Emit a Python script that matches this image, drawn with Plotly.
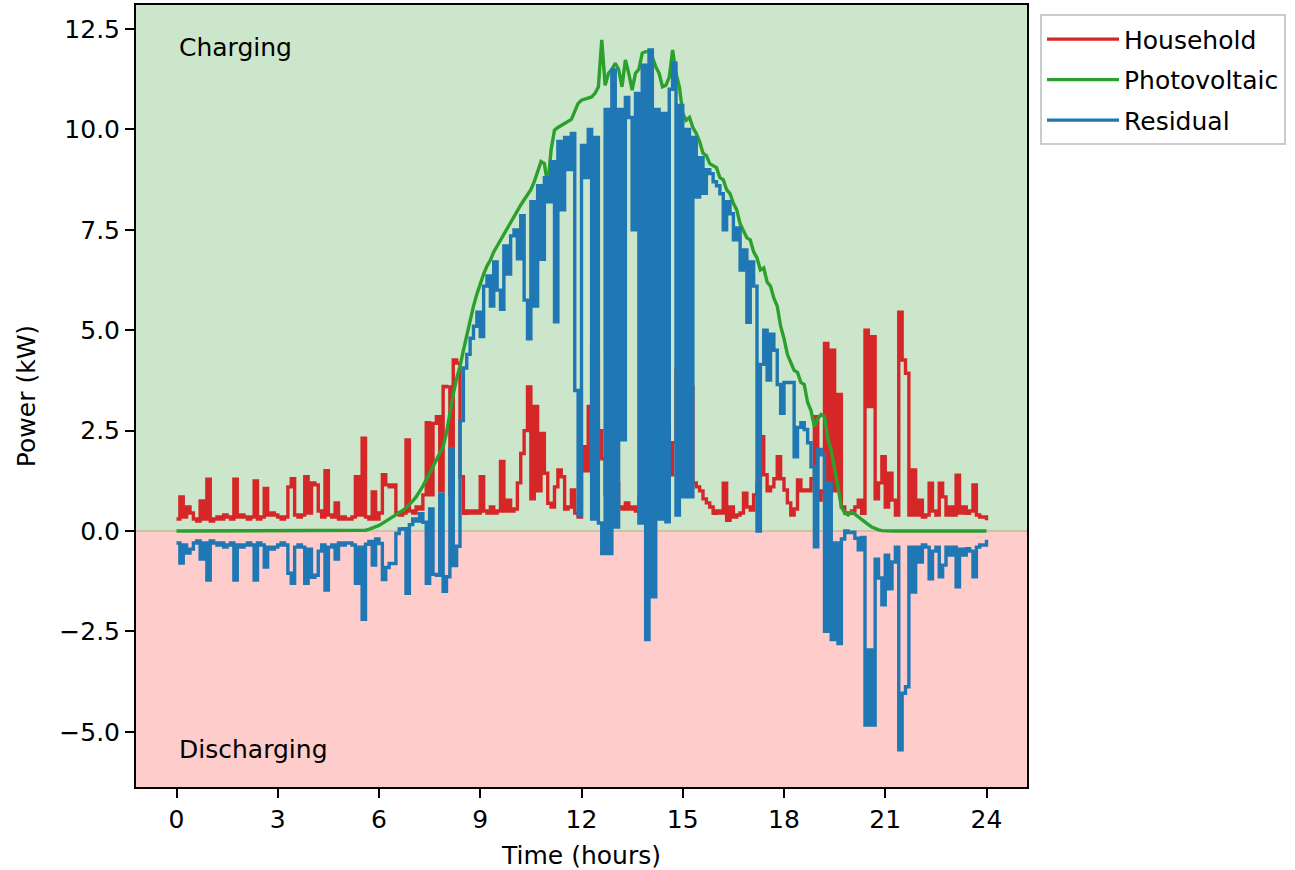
import plotly.graph_objects as go

# sampling grid: one reading every 0.1 h (6 minutes), 0 .. 24 h
n_steps = 241
time_h = [round(k * 0.1, 1) for k in range(n_steps)]

household = [
    0.30, 0.85, 0.35, 0.60, 0.45, 0.30, 0.25, 0.75, 0.30, 1.29,
    0.25, 0.30, 0.35, 0.30, 0.40, 0.35, 0.30, 1.29, 0.35, 0.40,
    0.35, 0.30, 0.35, 1.25, 0.30, 0.35, 1.06, 0.40, 0.45, 0.40,
    0.35, 0.30, 0.35, 1.10, 1.30, 0.40, 0.35, 0.40, 1.35, 0.45,
    1.20, 1.15, 0.50, 0.35, 1.50, 0.40, 0.35, 0.70, 0.30, 0.35,
    0.30, 0.30, 0.35, 1.35, 0.40, 2.31, 0.35, 0.30, 0.97, 0.30,
    0.45, 1.40, 1.15, 1.10, 1.15, 0.45, 0.40, 0.45, 2.27, 0.50,
    0.45, 0.60, 0.55, 0.90, 2.70, 0.90, 2.68, 2.85, 1.00, 3.60,
    3.59, 0.90, 4.26, 4.18, 1.35, 0.44, 0.50, 0.45, 0.50, 0.45,
    1.35, 0.50, 0.45, 0.60, 0.45, 0.50, 1.73, 0.50, 0.77, 0.50,
    0.55, 1.20, 1.93, 2.50, 3.59, 0.80, 3.10, 1.00, 2.43, 1.44,
    0.69, 0.60, 1.10, 1.52, 1.35, 0.55, 0.60, 1.02, 0.45, 0.35,
    2.10, 1.50, 3.10, 4.70, 4.26, 2.50, 1.80, 0.90, 1.50, 0.70,
    1.19, 0.60, 0.55, 0.70, 0.55, 0.60, 0.50, 0.80, 0.60, 0.55,
    1.40, 0.90, 2.18, 1.70, 2.20, 2.68, 1.40, 2.20, 4.00, 4.59,
    3.00, 3.20, 3.59, 1.20, 1.10, 1.00, 0.80, 0.70, 0.60, 0.44,
    0.50, 0.45, 1.19, 0.27, 0.60, 0.35, 0.40, 0.45, 0.94, 0.60,
    0.52, 0.90, 1.20, 2.35, 1.40, 1.00, 1.10, 1.30, 1.85, 1.30,
    1.02, 0.70, 0.40, 0.55, 1.27, 1.00, 1.02, 1.00, 1.30, 2.85,
    0.77, 1.00, 4.67, 0.90, 4.50, 1.00, 3.40, 0.60, 0.45, 0.44,
    0.50, 0.60, 0.77, 0.44, 5.00, 3.10, 4.84, 0.80, 1.20, 1.85,
    0.60, 1.44, 0.77, 0.40, 5.45, 4.26, 3.93, 0.40, 1.52, 0.40,
    0.77, 0.35, 0.40, 1.19, 0.50, 0.40, 1.19, 0.85, 0.40, 0.60,
    0.40, 1.39, 0.45, 0.60, 0.44, 0.50, 1.15, 0.40, 0.35, 0.35,
    0.27,
]

photovoltaic = [
    0, 0, 0, 0, 0, 0, 0, 0, 0, 0,
    0, 0, 0, 0, 0, 0, 0, 0, 0, 0,
    0, 0, 0, 0, 0, 0, 0, 0, 0, 0,
    0, 0, 0, 0, 0, 0, 0, 0, 0, 0,
    0, 0, 0, 0, 0, 0, 0, 0, 0, 0,
    0, 0, 0, 0, 0, 0, 0.02, 0.04, 0.07, 0.10,
    0.14, 0.19, 0.24, 0.29, 0.34, 0.39, 0.45, 0.51, 0.58, 0.66,
    0.75, 0.85, 0.98, 1.12, 1.28, 1.45, 1.60, 1.75, 1.92, 2.10,
    2.45, 2.95, 3.40, 3.80, 4.10, 4.50, 4.90, 5.25, 5.60, 5.90,
    6.17, 6.40, 6.60, 6.75, 6.95, 7.10, 7.25, 7.40, 7.55, 7.66,
    7.82, 7.98, 8.12, 8.25, 8.38, 8.50, 8.70, 8.95, 9.20, 9.15,
    8.60, 9.50, 9.98, 10.05, 10.10, 10.15, 10.20, 10.25, 10.45, 10.65,
    10.73, 10.75, 10.78, 10.81, 10.90, 11.06, 12.23, 11.10, 11.40, 11.50,
    11.65, 11.50, 11.06, 11.73, 11.40, 10.98, 11.40, 11.50, 11.90, 11.94,
    11.94, 11.80, 11.56, 11.40, 11.06, 11.10, 11.30, 11.98, 11.40, 11.06,
    10.40, 10.23, 10.30, 10.05, 9.90, 9.70, 9.41, 9.35, 9.15, 9.10,
    9.05, 8.80, 8.75, 8.50, 8.40, 8.16, 8.00, 7.65, 7.45, 7.30,
    7.25, 6.95, 6.80, 6.50, 6.55, 6.20, 6.10, 5.80, 5.60, 5.10,
    4.80, 4.40, 4.20, 4.00, 3.95, 3.70, 3.65, 3.20, 3.00, 2.60,
    2.80, 2.90, 2.85, 2.30, 2.00, 1.60, 1.10, 0.60, 0.45, 0.40,
    0.47, 0.42, 0.35, 0.28, 0.22, 0.16, 0.10, 0.06, 0.03, 0.01,
    0, 0, 0, 0, 0, 0, 0, 0, 0, 0,
    0, 0, 0, 0, 0, 0, 0, 0, 0, 0,
    0, 0, 0, 0, 0, 0, 0, 0, 0, 0,
    0,
]

residual = [
    -0.30, -0.80, -0.35, -0.55, -0.45, -0.30, -0.25, -0.70, -0.30, -1.22,
    -0.25, -0.30, -0.35, -0.30, -0.40, -0.35, -0.30, -1.22, -0.35, -0.40,
    -0.35, -0.30, -0.35, -1.22, -0.30, -0.35, -0.90, -0.40, -0.45, -0.40,
    -0.35, -0.30, -0.35, -1.05, -1.30, -0.40, -0.35, -0.40, -1.30, -0.45,
    -1.15, -1.10, -0.50, -0.35, -1.47, -0.40, -0.35, -0.70, -0.30, -0.35,
    -0.30, -0.30, -0.35, -1.30, -0.40, -2.20, -0.33, -0.26, -0.85, -0.20,
    -0.31, -1.21, -0.91, -0.81, -0.81, -0.06, 0.05, 0.06, -1.55, 0.16,
    0.30, 0.25, 0.43, 0.22, -1.30, 0.55, -1.08, -1.10, 0.92, -1.50,
    -1.14, 2.05, -0.86, -0.38, 2.75, 4.06, 4.40, 4.80, 5.10, 5.45,
    4.84, 6.10, 6.35, 5.60, 6.70, 6.00, 5.52, 7.10, 6.40, 7.35,
    7.50, 6.78, 7.85, 5.75, 4.79, 8.20, 5.60, 8.60, 6.77, 8.80,
    8.20, 9.20, 5.21, 9.70, 8.00, 9.80, 9.00, 9.90, 3.50, 0.40,
    9.60, 8.80, 10.00, 0.30, 9.80, 0.20, -0.56, 10.50, -0.56, 11.48,
    0.10, 10.50, 2.27, 10.80, 10.30, 7.50, 10.90, 0.20, 11.60, -2.70,
    11.98, -1.64, 10.50, 0.30, 10.40, 0.23, 11.00, 11.65, 0.40, 10.60,
    0.85, 10.00, 0.85, 9.80, 8.32, 9.30, 8.41, 9.00, 8.90, 8.70,
    8.60, 8.40, 7.50, 8.20, 7.90, 7.25, 7.55, 6.50, 7.00, 5.20,
    6.70, 6.10, 0.00, 4.15, 5.00, 3.76, 4.90, 4.50, 3.65, 2.93,
    3.70, 3.70, 3.70, 1.85, 2.58, 2.70, 2.53, 2.20, 1.60, -0.39,
    2.03, 1.90, -2.50, 1.20, -2.70, -0.30, -2.80, -0.20, 0.00, -0.04,
    -0.03, -0.18, -0.47, -0.16, -4.83, -2.96, -4.83, -0.70, -1.17, -1.84,
    -0.60, -1.44, -0.77, -0.40, -5.45, -4.04, -3.88, -0.40, -1.52, -0.40,
    -0.77, -0.35, -0.40, -1.19, -0.50, -0.40, -1.14, -0.85, -0.40, -0.60,
    -0.40, -1.39, -0.45, -0.60, -0.44, -0.50, -1.14, -0.40, -0.35, -0.35,
    -0.22,
]

x_ticks = [0, 3, 6, 9, 12, 15, 18, 21, 24]
y_ticks = [-5.0, -2.5, 0.0, 2.5, 5.0, 7.5, 10.0, 12.5]
y_tick_text = ["\u22125.0", "\u22122.5", "0.0", "2.5", "5.0", "7.5", "10.0", "12.5"]

FONT = "DejaVu Sans"
FS = 25
LW = 3.4

fig = go.Figure()
fig.add_trace(go.Scatter(x=time_h, y=household, mode="lines", name="Household",
                         legendgroup="g1",
                         line=dict(color="#d62728", width=LW, shape="hv")))
fig.add_trace(go.Scatter(x=time_h, y=photovoltaic, mode="lines", name="Photovoltaic",
                         legendgroup="g2",
                         line=dict(color="#2ca02c", width=LW)))
fig.add_trace(go.Scatter(x=time_h, y=residual, mode="lines", name="Residual",
                         legendgroup="g3",
                         line=dict(color="#1f77b4", width=LW, shape="hv")))

y_lo, y_hi = -6.375, 13.1

fig.add_shape(type="rect", xref="paper", x0=0, x1=1, yref="y", y0=0, y1=y_hi,
              fillcolor="rgb(204,230,204)", line=dict(width=0), layer="below")
fig.add_shape(type="rect", xref="paper", x0=0, x1=1, yref="y", y0=y_lo, y1=0,
              fillcolor="rgb(255,204,204)", line=dict(width=0), layer="below")
fig.add_shape(type="line", xref="paper", x0=0, x1=1, yref="y", y0=0, y1=0,
              line=dict(color="rgb(205,185,150)", width=1.5), layer="below")

fig.add_annotation(x=0, y=12.05, xref="x", yref="y", text="Charging", showarrow=False,
                   xanchor="left", yanchor="middle", font=dict(family=FONT, size=FS, color="black"))
fig.add_annotation(x=0, y=-5.45, xref="x", yref="y", text="Discharging", showarrow=False,
                   xanchor="left", yanchor="middle", font=dict(family=FONT, size=FS, color="black"))

axis_common = dict(showline=True, linecolor="black", linewidth=2, mirror=True,
                   ticks="outside", ticklen=9, tickwidth=2, tickcolor="black",
                   showgrid=False, zeroline=False,
                   tickfont=dict(family=FONT, size=FS, color="black"))

fig.update_layout(
    width=1295, height=870,
    margin=dict(l=136, r=268, t=5, b=83, autoexpand=False),
    paper_bgcolor="white", plot_bgcolor="white",
    font=dict(family=FONT, size=FS, color="black"),
    xaxis=dict(range=[-1.2, 25.2], tickmode="array", tickvals=x_ticks,
               title=dict(text="Time (hours)", font=dict(family=FONT, size=FS, color="black"), standoff=13),
               **axis_common),
    yaxis=dict(range=[y_lo, y_hi], tickmode="array", tickvals=y_ticks, ticktext=y_tick_text,
               title=dict(text="Power (kW)", font=dict(family=FONT, size=FS, color="black"), standoff=17),
               **axis_common),
    legend=dict(x=1.0146, y=0.988, xanchor="left", yanchor="top",
                font=dict(family=FONT, size=FS, color="black"),
                bgcolor="white", bordercolor="#cccccc", borderwidth=2,
                traceorder="grouped", tracegroupgap=5, itemwidth=72),
    showlegend=True,
)

fig.write_html("out.html")
